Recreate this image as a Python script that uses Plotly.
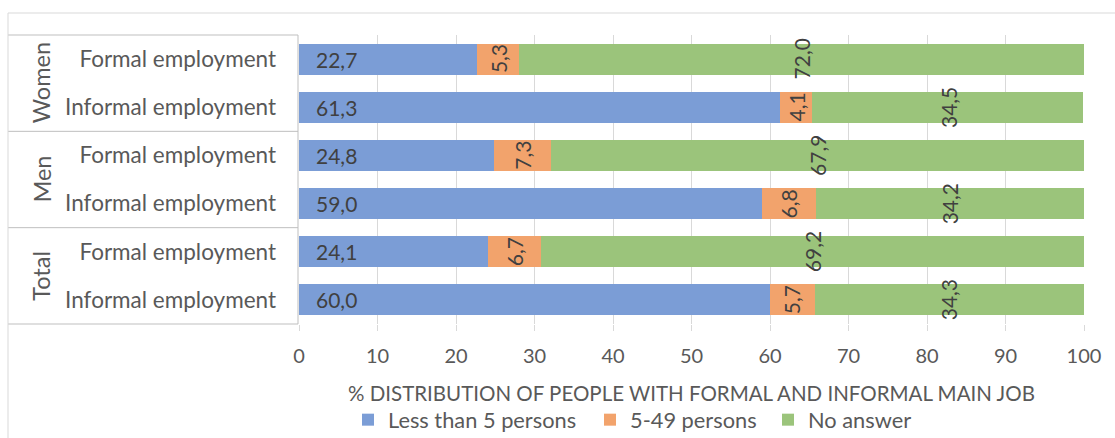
import plotly.graph_objects as go

# ---- data ----
groups = ["Women", "Women", "Men", "Men", "Total", "Total"]
rows = ["Formal employment", "Informal employment"] * 3
less_than_5 = [22.7, 61.3, 24.8, 59.0, 24.1, 60.0]
p5_49 = [5.3, 4.1, 7.3, 6.8, 6.7, 5.7]
no_answer = [72.0, 34.5, 67.9, 34.2, 69.2, 34.3]
series_names = ["Less than 5 persons", "5-49 persons", "No answer"]
x_title = "% DISTRIBUTION OF PEOPLE WITH FORMAL AND INFORMAL MAIN JOB"
x_ticks = [0, 10, 20, 30, 40, 50, 60, 70, 80, 90, 100]

colors = ["#7B9DD6", "#F2A36C", "#9BC47B"]
FONT = "Lato"
TXT = "#595959"
LBL = "#404040"
W, H = 1115, 438
L, R, T, B = 299, 31, 35, 114
plot_w = W - L - R
plot_h = H - T - B


def px_x(p):
    return (p - L) / plot_w


def px_y(p):
    return 1 - (p - T) / plot_h


cats = [f"{g}|{r}" for g, r in zip(groups, rows)]
legend_ids = ["legend", "legend2", "legend3"]
legend_px = [348, 590, 768]

fig = go.Figure()
for name, vals, col, lid in zip(series_names, [less_than_5, p5_49, no_answer], colors, legend_ids):
    fig.add_trace(go.Bar(
        y=cats, x=vals, name=name, orientation="h",
        marker=dict(color=col, line=dict(width=0)),
        hoverinfo="x+name", legend=lid, showlegend=True,
    ))


def fmt(v):
    return f"{v:.1f}".replace(".", ",")


DL = 21
annotations = []
for i, c in enumerate(cats):
    b, o, g = less_than_5[i], p5_49[i], no_answer[i]
    annotations.append(dict(x=0, y=c, xref="x", yref="y", text=fmt(b), showarrow=False,
                            xanchor="left", xshift=15, font=dict(family=FONT, size=DL, color=LBL)))
    annotations.append(dict(x=b + o / 2, y=c, xref="x", yref="y", text=fmt(o), showarrow=False,
                            textangle=-90, font=dict(family=FONT, size=DL, color=LBL)))
    annotations.append(dict(x=b + o + g / 2, y=c, xref="x", yref="y", text=fmt(g), showarrow=False,
                            textangle=-90, font=dict(family=FONT, size=DL, color=LBL)))

# group labels
seen = []
for i, g in enumerate(groups):
    if g in seen:
        continue
    seen.append(g)
    idx = [j for j, gg in enumerate(groups) if gg == g]
    annotations.append(dict(x=px_x(25), xref="paper", y=(idx[0] + idx[-1]) / 2, yref="y",
                            text=g, showarrow=False, textangle=-90,
                            font=dict(family=FONT, size=23.5, color=TXT)))

# axis title
annotations.append(dict(x=0.5, y=0, xref="paper", yref="paper", yshift=-69, text=x_title,
                        showarrow=False, yanchor="middle",
                        font=dict(family=FONT, size=20.5, color=TXT)))

line_col = "#BFBFBF"
shapes = []
# table box
xl, xr = px_x(8), px_x(298)
shapes.append(dict(type="line", xref="paper", yref="paper", x0=xl, x1=xr, y0=1, y1=1, line=dict(color=line_col, width=1)))
shapes.append(dict(type="line", xref="paper", yref="paper", x0=xl, x1=xr, y0=0, y1=0, line=dict(color=line_col, width=1)))
shapes.append(dict(type="line", xref="paper", yref="paper", x0=xr, x1=xr, y0=0, y1=1, line=dict(color=line_col, width=1)))
for k in range(len(cats) - 1):
    if groups[k] != groups[k + 1]:
        shapes.append(dict(type="line", xref="paper", yref="y", x0=xl, x1=xr, y0=k + 0.5, y1=k + 0.5,
                           line=dict(color=line_col, width=1)))
# chart border
shapes.append(dict(type="line", xref="paper", yref="paper", x0=px_x(8), x1=px_x(8), y0=px_y(13), y1=px_y(440),
                   line=dict(color="#D9D9D9", width=1)))
shapes.append(dict(type="line", xref="paper", yref="paper", x0=px_x(8), x1=px_x(1120), y0=px_y(13), y1=px_y(13),
                   line=dict(color="#D9D9D9", width=1)))

legends = {}
for lid, lx in zip(legend_ids, legend_px):
    legends[lid] = dict(orientation="h", x=px_x(lx), xanchor="left", y=px_y(420), yanchor="middle",
                        font=dict(family=FONT, size=21.8, color=TXT), bgcolor="rgba(0,0,0,0)")

fig.update_layout(
    width=W, height=H,
    showlegend=True,
    margin=dict(l=L, r=R, t=T, b=B, pad=0, autoexpand=False),
    barmode="stack", bargap=0.357,
    paper_bgcolor="white", plot_bgcolor="white",
    font=dict(family=FONT, size=20, color=TXT),
    xaxis=dict(range=[0, 100], tickvals=x_ticks, showgrid=True, gridcolor="#D9D9D9", gridwidth=1,
               ticks="outside", ticklen=6, tickcolor="#D9D9D9", zeroline=False, showline=False,
               tickfont=dict(family=FONT, size=20, color=TXT), ticklabelstandoff=8),
    yaxis=dict(type="category", autorange="reversed", tickvals=cats, ticktext=rows,
               ticks="", showgrid=False, zeroline=False, showline=False,
               tickfont=dict(family=FONT, size=22.5, color=TXT), ticklabelstandoff=22),
    annotations=annotations,
    shapes=shapes,
    **legends,
)

fig.write_html("out.html")
